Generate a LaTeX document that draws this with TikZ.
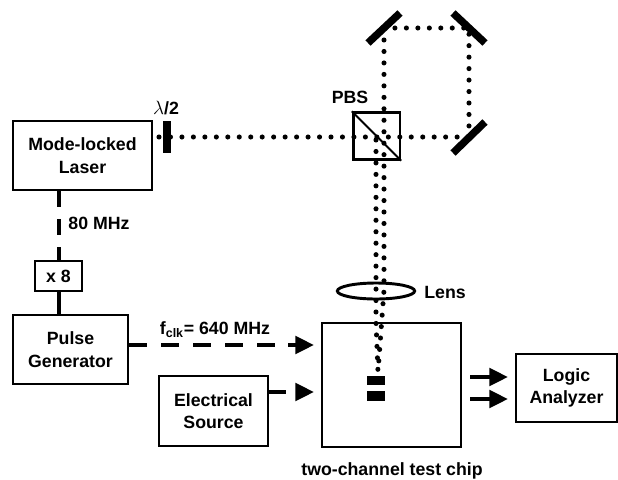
\documentclass[tikz,border=0pt]{standalone}
\usepackage{fontspec}
\setmainfont{Liberation Sans}
\usetikzlibrary{arrows.meta,shapes.geometric}
\tikzset{
box/.style={draw, line width=2pt, inner sep=0pt, align=center, font=\fontsize{13.3pt}{17pt}\selectfont\bfseries},
lbl/.style={inner sep=0pt, font=\fontsize{13.3pt}{16pt}\selectfont\bfseries},
beam/.style={line width=3.8pt, line cap=round, dash pattern=on 0pt off 8.6pt},
mirror/.style={line width=5.6pt},
wire/.style={line width=3pt},
dashwire/.style={wire, dash pattern=on 13.5pt off 10.5pt},
head/.style={-{Triangle[length=14pt,width=13pt]}, line width=3pt},
}
\begin{document}
\begin{tikzpicture}[x=0.75pt,y=-0.75pt]
\useasboundingbox (0,0) rectangle (618,479);
\node[box, minimum width=104.25pt, minimum height=51.75pt] (laser) at (82.5,155.5) {Mode-locked\\Laser};
\node[box, minimum width=35.25pt, minimum height=22.5pt] (mult) at (58.5,276) {x 8};
\node[box, minimum width=86.25pt, minimum height=51.75pt] (pulse) at (70.5,349.5) {Pulse\\Generator};
\node[box, minimum width=81.75pt, minimum height=52.5pt] (source) at (213.5,411) {Electrical\\Source};
\node[box, minimum width=104.25pt, minimum height=93pt] (chip) at (391.5,385) {};
\node[box, minimum width=75.75pt, minimum height=51pt] (logic) at (566.5,388) {Logic\\Analyzer};
\node[draw, line width=2pt, minimum size=35pt, inner sep=0pt] (pbs) at (376.5,136) {};
\node[draw, line width=2.2pt, ellipse, minimum width=58pt, minimum height=12pt, inner sep=0pt] (lens) at (376,291) {};
\node[fill, minimum width=13.5pt, minimum height=7pt, inner sep=0pt] (padA) at (376,380.5) {};
\node[fill, minimum width=13.5pt, minimum height=7pt, inner sep=0pt] (padB) at (376,396) {};
\draw[line width=1.5pt] (pbs.north west) -- (pbs.south east);
% mirrors and plate
\coordinate (mtl) at (384,28);
\coordinate (mtr) at (469,28);
\coordinate (mbr) at (469,137);
\draw[mirror] (167,121) -- (167,153);
\draw[mirror] (368,43) -- (400,13);
\draw[mirror] (453,13) -- (485,43);
\draw[mirror] (453,153) -- (485,122);
% beams
\draw[beam] (159,137) -- (mbr) -- (mtr) -- (mtl) -- (384,290) -- (378,372);
\draw[beam] (376,140) -- (376,322) -- (378,372);
% wires
\draw[wire, dash pattern=on 12pt off 9pt] (laser.south -| mult.north) -- (mult.north);
\draw[wire] (mult.south) -- (mult.south |- pulse.north);
\draw[dashwire] (pulse.east |- 0,345) -- (296,345);
\draw[head] (288,345) -- (314,345);
\draw[wire] (source.east |- 0,392) -- (286,392);
\draw[head] (297,392) -- (314,392);
\draw[wire] (470,377) -- (490,377);
\draw[head] (485,377) -- (508,377);
\draw[wire] (470,399) -- (490,399);
\draw[head] (485,399) -- (508,399);
% labels
\node[lbl] (pbslbl) at (350,97) {PBS};
\node[lbl] (plate) at (166,108) {$\lambda$/2};
\node[lbl] (freq) at (99,223) {80 MHz};
\node[lbl] (fclk) at (215,330) {f\textsubscript{clk}= 640 MHz};
\node[lbl] (lenslbl) at (445,292) {Lens};
\node[lbl] (chiplbl) at (392,471) {two-channel test chip};
\end{tikzpicture}
\end{document}
